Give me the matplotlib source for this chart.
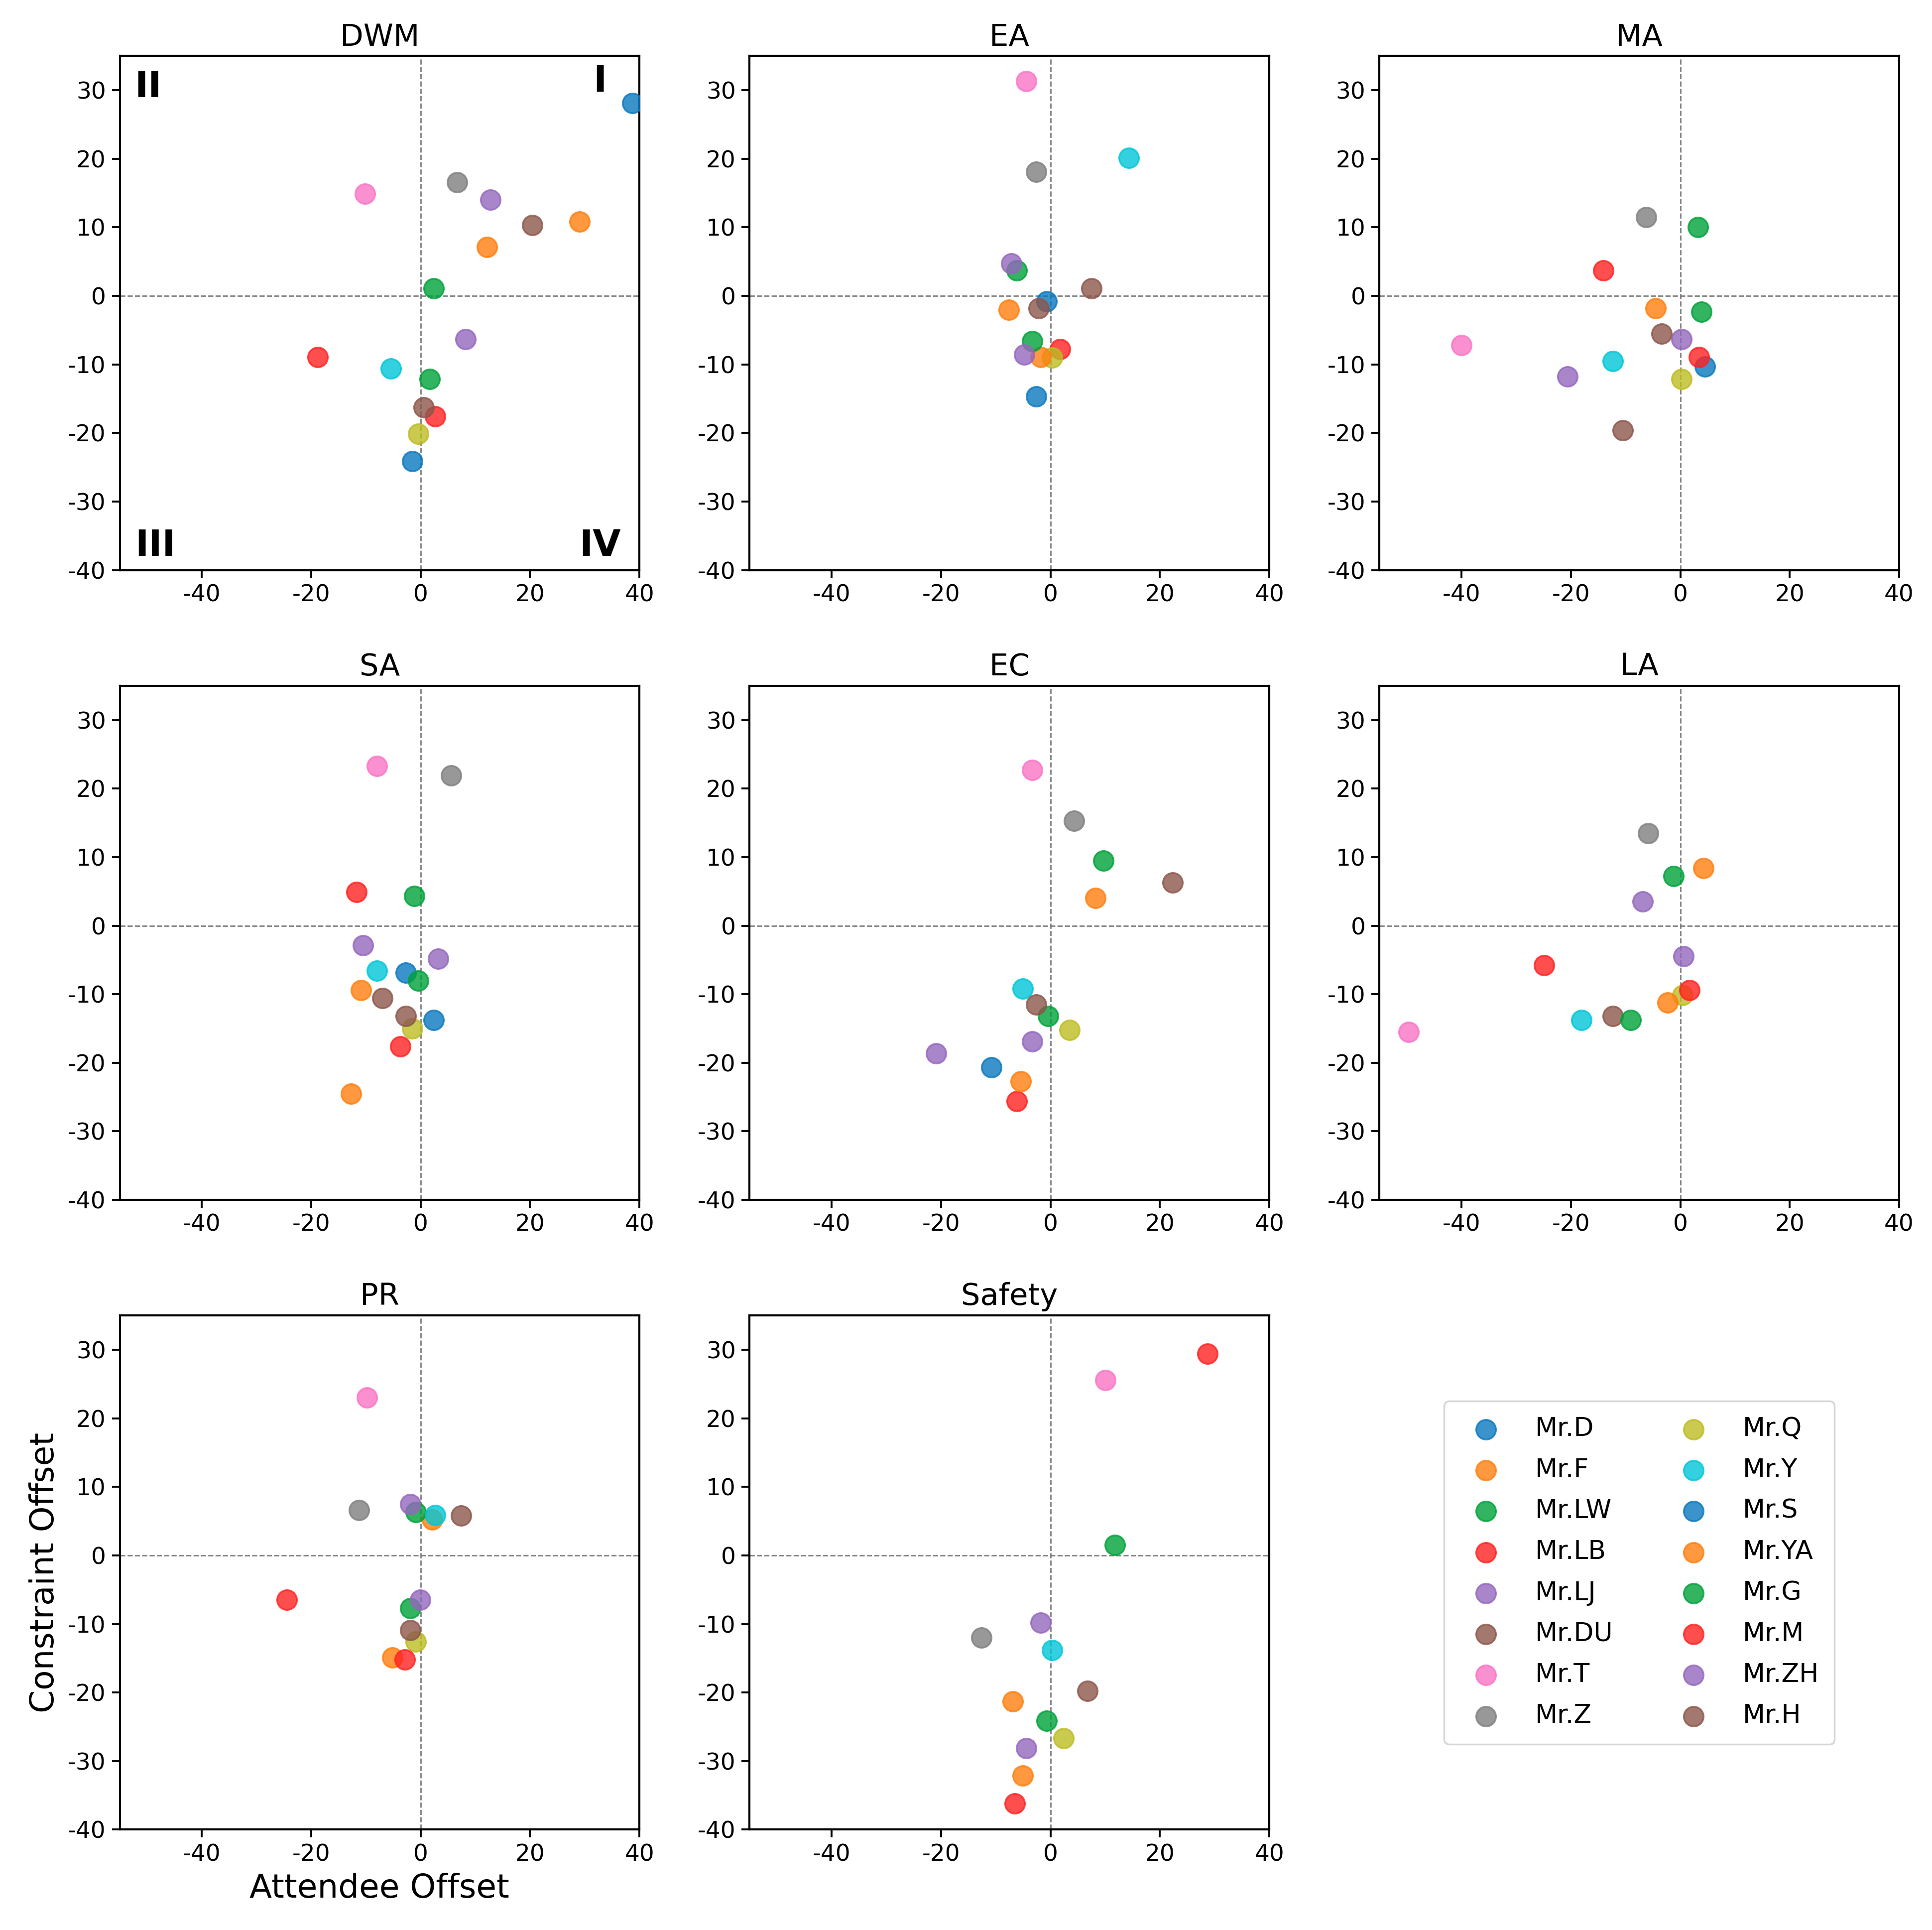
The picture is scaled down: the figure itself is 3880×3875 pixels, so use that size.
"""
Offset quadrant scatter: attendee offset vs constraint offset per dimension.
"""

import numpy as np
import matplotlib.pyplot as plt

nan = np.nan

people = ["Mr.D", "Mr.F", "Mr.LW", "Mr.LB", "Mr.LJ", "Mr.DU", "Mr.T", "Mr.Z",
          "Mr.Q", "Mr.Y", "Mr.S", "Mr.YA", "Mr.G", "Mr.M", "Mr.ZH", "Mr.H"]

panels = ["DWM", "EA", "MA", "SA", "EC", "LA", "PR", "Safety"]

# values, one entry per person (nan = not drawn)
dwm_x = [38.7, 29.1, 2.4, -18.8, 12.8, 20.4, -10.2, 6.7, -0.4, -5.4, -1.5, 12.1, 1.7, 2.7, 8.2, 0.6]
dwm_y = [28.1, 10.8, 1.1, -8.9, 14.0, 10.3, 14.9, 16.6, -20.1, -10.6, -24.1, 7.1, -12.1, -17.6, -6.3, -16.3]

ea_x = [-0.7, -7.6, -6.2, 1.8, -7.2, 7.5, -4.4, -2.6, 0.3, 14.3, -2.6, -1.8, -3.3, nan, -4.8, -2.2]
ea_y = [-0.8, -2.0, 3.7, -7.8, 4.7, 1.1, 31.3, 18.1, -9.0, 20.1, -14.7, -8.9, -6.6, nan, -8.6, -1.8]

ma_x = [4.5, -4.5, 3.2, -14.1, 0.2, -3.4, -40.0, -6.2, 0.2, -12.3, nan, nan, 3.9, 3.4, -20.6, -10.5]
ma_y = [-10.3, -1.8, 10.0, 3.7, -6.3, -5.5, -7.2, 11.5, -12.1, -9.5, nan, nan, -2.3, -8.9, -11.8, -19.6]

sa_x = [-2.7, -10.9, -1.2, -11.7, -10.5, -7.0, -8.0, 5.6, -1.5, -8.0, 2.4, -12.7, -0.4, -3.7, 3.2, -2.7]
sa_y = [-6.9, -9.4, 4.3, 4.9, -2.9, -10.6, 23.3, 21.9, -15.0, -6.6, -13.8, -24.5, -8.0, -17.6, -4.8, -13.2]

ec_x = [-10.8, 8.2, 9.7, -6.2, -3.3, 22.3, -3.3, 4.3, 3.5, -5.1, nan, -5.4, -0.4, nan, -20.9, -2.6]
ec_y = [-20.7, 4.0, 9.5, -25.6, -16.9, 6.3, 22.7, 15.3, -15.2, -9.2, nan, -22.7, -13.2, nan, -18.6, -11.5]

la_x = [nan, 4.2, -1.2, -24.9, -6.9, -12.3, -49.7, -5.9, 0.4, -18.1, nan, -2.3, -9.1, 1.7, 0.6, nan]
la_y = [nan, 8.4, 7.2, -5.8, 3.5, -13.2, -15.5, 13.5, -10.1, -13.8, nan, -11.2, -13.8, -9.4, -4.5, nan]

pr_x = [nan, 2.1, -0.9, -24.5, -1.9, 7.4, -9.8, -11.3, -0.9, 2.7, nan, -5.2, -1.9, -2.9, -0.1, -1.9]
pr_y = [nan, 5.2, 6.3, -6.5, 7.5, 5.8, 23.0, 6.6, -12.6, 5.9, nan, -14.9, -7.7, -15.2, -6.5, -10.9]

safety_x = [nan, -6.9, 11.8, 28.7, -1.8, 6.8, 10.0, -12.6, 2.4, 0.3, nan, -5.1, -0.7, -6.5, -4.4, nan]
safety_y = [nan, -21.3, 1.5, 29.4, -9.8, -19.8, 25.6, -12.0, -26.7, -13.8, nan, -32.1, -24.1, -36.2, -28.1, nan]

panel_x = [dwm_x, ea_x, ma_x, sa_x, ec_x, la_x, pr_x, safety_x]
panel_y = [dwm_y, ea_y, ma_y, sa_y, ec_y, la_y, pr_y, safety_y]

quadrant_labels = ["I", "II", "III", "IV"]

# tab10-like, a bit punchier (green / red / cyan) like the source image
palette = ["#0a78bf", "#ff7f0e", "#00a23a", "#ff2222", "#9467bd",
           "#8c564b", "#fb74c6", "#7f7f7f", "#bcbd22", "#00c6d8"]


def draw_panel(ax, title, xs, ys, colors):
    ax.axhline(0, color="gray", linestyle="--", linewidth=0.8, zorder=1)
    ax.axvline(0, color="gray", linestyle="--", linewidth=0.8, zorder=1)
    handles = []
    for i, name in enumerate(people):
        h = ax.scatter(xs[i], ys[i], s=130, color=colors[i], alpha=0.8,
                       label=name, zorder=3)
        handles.append(h)
    ax.set_xlim(-55, 40)
    ax.set_ylim(-40, 35)
    ax.set_xticks([-40, -20, 0, 20, 40])
    ax.set_yticks([-40, -30, -20, -10, 0, 10, 20, 30])
    ax.tick_params(labelsize=13.5, width=1.1, length=4.5)
    for sp in ax.spines.values():
        sp.set_linewidth(1.2)
    ax.set_title(title, fontsize=17.5)
    return handles


def main() -> None:
    plt.rcParams["axes.unicode_minus"] = False
    colors = [palette[i % 10] for i in range(len(people))]

    fig, axes = plt.subplots(3, 3, figsize=(15.52, 15.50), dpi=250)
    fig.subplots_adjust(left=0.062, right=0.983, bottom=0.052, top=0.971,
                        wspace=0.212, hspace=0.225)
    flat = axes.ravel()

    handles = None
    for k, title in enumerate(panels):
        h = draw_panel(flat[k], title, panel_x[k], panel_y[k], colors)
        if handles is None:
            handles = h

    # quadrant markers on the first panel
    ax0 = flat[0]
    qpos = [(0.924, 0.95), (0.055, 0.94), (0.069, 0.048), (0.924, 0.048)]
    for lab, (qx, qy) in zip(quadrant_labels, qpos):
        ax0.text(qx, qy, lab, transform=ax0.transAxes, fontsize=21,
                 fontweight="bold", ha="center", va="center")

    flat[6].set_xlabel("Attendee Offset", fontsize=19)
    flat[6].set_ylabel("Constraint Offset", fontsize=19)

    flat[8].axis("off")
    flat[8].legend(handles, people, loc="center", ncol=2, fontsize=15,
                   scatterpoints=1, labelspacing=0.62, handletextpad=0.9,
                   columnspacing=2.1, borderpad=0.6)

    fig.savefig("out.png")
    plt.close(fig)


if __name__ == "__main__":
    main()
